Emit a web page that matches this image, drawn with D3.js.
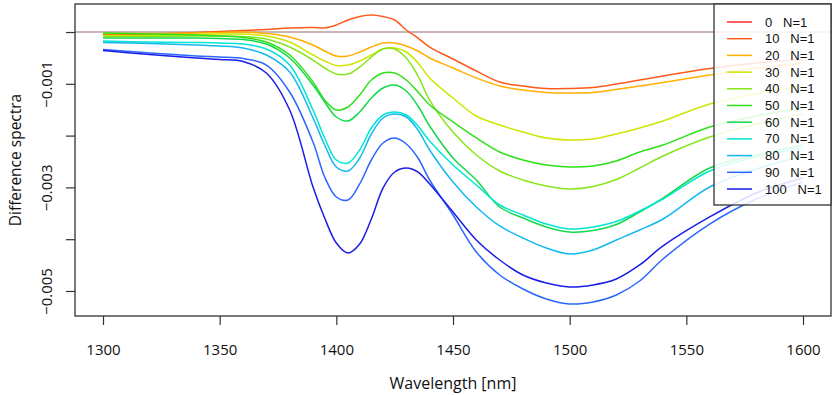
<!DOCTYPE html>
<html>
<head>
<meta charset="utf-8">
<script src="https://cdn.jsdelivr.net/npm/d3@7"></script>
<style>
  body { margin: 0; background: #ffffff; }
  #wrapper svg { display: block; }
</style>
</head>
<body>
<div id="wrapper"></div>
<script>
// wavelength grid (nm)
const wavelengths = [1300,1320,1340,1350,1360,1370,1380,1390,1395,1400,1405,1410,1415,1420,1425,1430,1435,1440,1450,1460,1470,1480,1490,1500,1510,1520,1530,1540,1560,1580,1600]

const levels = [0, 10, 20, 30, 40, 50, 60, 70, 80, 90, 100]

// difference spectra, in units of 1e-3
const diff0 = [0,0,0,0,0,0,0,0,0,0,0,0,0,0,0,0,0,0,0,0,0,0,0,0,0,0,0,0,0,0,0]
const diff10 = [-0.048,-0.039,-0.010,0.010,0.029,0.048,0.077,0.087,0.077,0.135,0.232,0.299,0.328,0.299,0.232,0.039,-0.116,-0.290,-0.521,-0.753,-0.965,-1.042,-1.091,-1.091,-1.071,-1.004,-0.927,-0.849,-0.705,-0.598,-0.531]
const diff20 = [-0.029,-0.029,-0.019,-0.010,0,-0.029,-0.097,-0.251,-0.367,-0.463,-0.463,-0.386,-0.290,-0.212,-0.212,-0.270,-0.367,-0.502,-0.695,-0.888,-1.042,-1.120,-1.168,-1.178,-1.168,-1.110,-1.042,-0.975,-0.830,-0.695,-0.608]
const diff30 = [-0.068,-0.068,-0.048,-0.039,-0.039,-0.077,-0.193,-0.444,-0.560,-0.647,-0.637,-0.560,-0.444,-0.328,-0.309,-0.386,-0.598,-0.888,-1.274,-1.622,-1.795,-1.931,-2.046,-2.085,-2.066,-1.969,-1.853,-1.718,-1.390,-1.197,-1.042]
const diff40 = [-0.087,-0.087,-0.077,-0.077,-0.087,-0.135,-0.290,-0.541,-0.695,-0.811,-0.811,-0.676,-0.483,-0.328,-0.328,-0.502,-0.849,-1.313,-1.931,-2.375,-2.683,-2.857,-2.973,-3.031,-2.983,-2.847,-2.625,-2.394,-2.027,-1.776,-1.583]
const diff50 = [-0.019,-0.039,-0.058,-0.077,-0.106,-0.193,-0.444,-0.965,-1.313,-1.506,-1.448,-1.216,-0.927,-0.792,-0.792,-0.927,-1.158,-1.409,-1.737,-2.046,-2.317,-2.471,-2.568,-2.606,-2.587,-2.490,-2.317,-2.181,-1.834,-1.622,-1.467]
const diff60 = [-0.116,-0.116,-0.116,-0.125,-0.145,-0.232,-0.502,-1.023,-1.351,-1.641,-1.718,-1.544,-1.274,-1.081,-1.023,-1.139,-1.429,-1.815,-2.432,-2.857,-3.378,-3.591,-3.764,-3.861,-3.832,-3.716,-3.475,-3.205,-2.625,-2.375,-2.181]
const diff70 = [-0.174,-0.193,-0.203,-0.212,-0.232,-0.328,-0.637,-1.506,-2.046,-2.471,-2.529,-2.278,-1.853,-1.602,-1.544,-1.602,-1.815,-2.104,-2.568,-2.954,-3.340,-3.533,-3.707,-3.803,-3.764,-3.658,-3.456,-3.224,-2.683,-2.413,-2.239]
const diff80 = [-0.203,-0.222,-0.251,-0.270,-0.309,-0.444,-0.772,-1.660,-2.181,-2.606,-2.683,-2.432,-1.969,-1.660,-1.583,-1.641,-1.892,-2.278,-2.896,-3.378,-3.745,-3.977,-4.170,-4.286,-4.208,-4.015,-3.822,-3.610,-2.992,-2.645,-2.394]
const diff90 = [-0.338,-0.405,-0.463,-0.483,-0.512,-0.637,-1.158,-2.124,-2.799,-3.185,-3.243,-2.934,-2.471,-2.143,-2.046,-2.162,-2.432,-2.857,-3.533,-4.247,-4.691,-4.961,-5.154,-5.251,-5.212,-5.077,-4.807,-4.382,-3.707,-3.224,-2.896]
const diff100 = [-0.357,-0.434,-0.502,-0.531,-0.569,-0.792,-1.506,-2.992,-3.591,-4.073,-4.266,-4.093,-3.610,-3.012,-2.703,-2.625,-2.703,-2.934,-3.475,-4.015,-4.402,-4.691,-4.846,-4.923,-4.884,-4.768,-4.498,-4.131,-3.571,-3.108,-2.819]

const spectra = [diff0, diff10, diff20, diff30, diff40, diff50, diff60, diff70, diff80, diff90, diff100]

const xTicks = [1300, 1350, 1400, 1450, 1500, 1550, 1600]
const yTicks = [0, -0.001, -0.002, -0.003, -0.004, -0.005]
const yTickLabels = ["", "\u22120.001", "", "\u22120.003", "", "\u22120.005"]

const lineColors = ["#ff2a2a", "#ff5a1a", "#ffb000", "#cfe600", "#86e61a", "#2ee01a", "#14d84a", "#00e6d0", "#14b8f0", "#2a66ff", "#1c1ce6"]

function drawChart() {
  // 1. access data
  const dataset = levels.map((level, i) => ({
    level: level,
    color: lineColors[i],
    values: spectra[i].map((v, j) => ({ wl: wavelengths[j], v: v * 1e-3 })),
  }))
  const xAccessor = d => d.wl
  const yAccessor = d => d.v

  // 2. dimensions
  let dimensions = {
    width: 835,
    height: 395,
    margin: { top: 4, right: 4, bottom: 79, left: 75 },
  }
  dimensions.boundedWidth = dimensions.width - dimensions.margin.left - dimensions.margin.right
  dimensions.boundedHeight = dimensions.height - dimensions.margin.top - dimensions.margin.bottom

  // 3. canvas
  const wrapper = d3.select("#wrapper")
    .append("svg")
      .attr("width", dimensions.width)
      .attr("height", dimensions.height)

  const bounds = wrapper.append("g")
      .attr("transform", `translate(${dimensions.margin.left},${dimensions.margin.top})`)

  // 4. scales (R style: 4% padding on each side)
  const xScale = d3.scaleLinear()
    .domain([1288, 1612])
    .range([0, dimensions.boundedWidth])

  const yScale = d3.scaleLinear()
    .domain([-0.005483, 0.000541])
    .range([dimensions.boundedHeight, 0])

  // 5. draw data
  const lineGenerator = d3.line()
    .x(d => xScale(xAccessor(d)))
    .y(d => yScale(yAccessor(d)))
    .curve(d3.curveCatmullRom.alpha(0.5))

  const drawSeries = s => bounds.append("path")
      .attr("d", lineGenerator(s.values))
      .attr("fill", "none")
      .attr("stroke", s.color)
      .attr("stroke-width", 1.5)

  drawSeries(dataset[0])

  // zero reference line
  bounds.append("line")
      .attr("x1", 0)
      .attr("x2", dimensions.boundedWidth)
      .attr("y1", yScale(0))
      .attr("y2", yScale(0))
      .attr("stroke", "#c9b5b5")
      .attr("stroke-width", 2)

  dataset.slice(1).forEach(drawSeries)

  // 6. peripherals
  const xAxis = bounds.append("g")
      .attr("transform", `translate(0,${dimensions.boundedHeight})`)
      .call(d3.axisBottom(xScale).tickValues(xTicks).tickSize(9).tickFormat(d3.format("d")))
  xAxis.select(".domain").remove()
  xAxis.selectAll("line").attr("stroke", "#333").attr("stroke-width", 1.2)
  xAxis.selectAll("text")
      .attr("y", 39)
      .attr("dy", 0)
      .attr("fill", "#111")
      .style("font-family", "'Open Sans', sans-serif")
      .style("font-size", "15px")

  const yAxis = bounds.append("g")
      .call(d3.axisLeft(yScale).tickValues(yTicks).tickSize(9).tickFormat((d, i) => yTickLabels[i]))
  yAxis.select(".domain").remove()
  yAxis.selectAll("line").attr("stroke", "#333").attr("stroke-width", 1.2)
  yAxis.selectAll("text")
      .attr("transform", "rotate(-90)")
      .attr("x", 0)
      .attr("y", -23)
      .attr("dy", 0)
      .attr("text-anchor", "middle")
      .attr("fill", "#111")
      .style("font-family", "'Open Sans', sans-serif")
      .style("font-size", "15px")

  // plot frame
  bounds.append("rect")
      .attr("width", dimensions.boundedWidth)
      .attr("height", dimensions.boundedHeight)
      .attr("fill", "none")
      .attr("stroke", "#333")
      .attr("stroke-width", 1.3)

  wrapper.append("text")
      .attr("x", dimensions.margin.left + xScale(1450))
      .attr("y", 389)
      .attr("text-anchor", "middle")
      .attr("fill", "#111")
      .style("font-family", "'Open Sans', sans-serif")
      .style("font-size", "16px")
      .text("Wavelength [nm]")

  wrapper.append("text")
      .attr("transform", `translate(21,${dimensions.margin.top + dimensions.boundedHeight / 2}) rotate(-90)`)
      .attr("text-anchor", "middle")
      .attr("fill", "#111")
      .style("font-family", "'Open Sans', sans-serif")
      .style("font-size", "15.5px")
      .text("Difference spectra")

  // legend (top right, semi transparent)
  const legendWidth = 117
  const legend = bounds.append("g")
      .attr("transform", `translate(${dimensions.boundedWidth - legendWidth},0)`)

  legend.append("rect")
      .attr("width", legendWidth)
      .attr("height", 201)
      .attr("fill", "#ffffff")
      .attr("fill-opacity", 0.85)
      .attr("stroke", "#333")
      .attr("stroke-width", 1.3)

  const rows = legend.selectAll(".row")
    .data(dataset)
    .enter().append("g")
      .attr("class", "row")
      .attr("transform", (d, i) => `translate(0,${18 + i * 16.7})`)

  rows.append("line")
      .attr("x1", 13)
      .attr("x2", 38)
      .attr("stroke", d => d.color)
      .attr("stroke-width", 1.5)

  rows.append("text")
      .attr("x", 51)
      .attr("y", 4.5)
      .attr("fill", "#111")
      .style("font-family", "'Liberation Sans', Arial, sans-serif")
      .style("font-size", "13px")
      .style("white-space", "pre")
      .text(d => `${d.level}   N=1`)
}
drawChart()
</script>
</body>
</html>
